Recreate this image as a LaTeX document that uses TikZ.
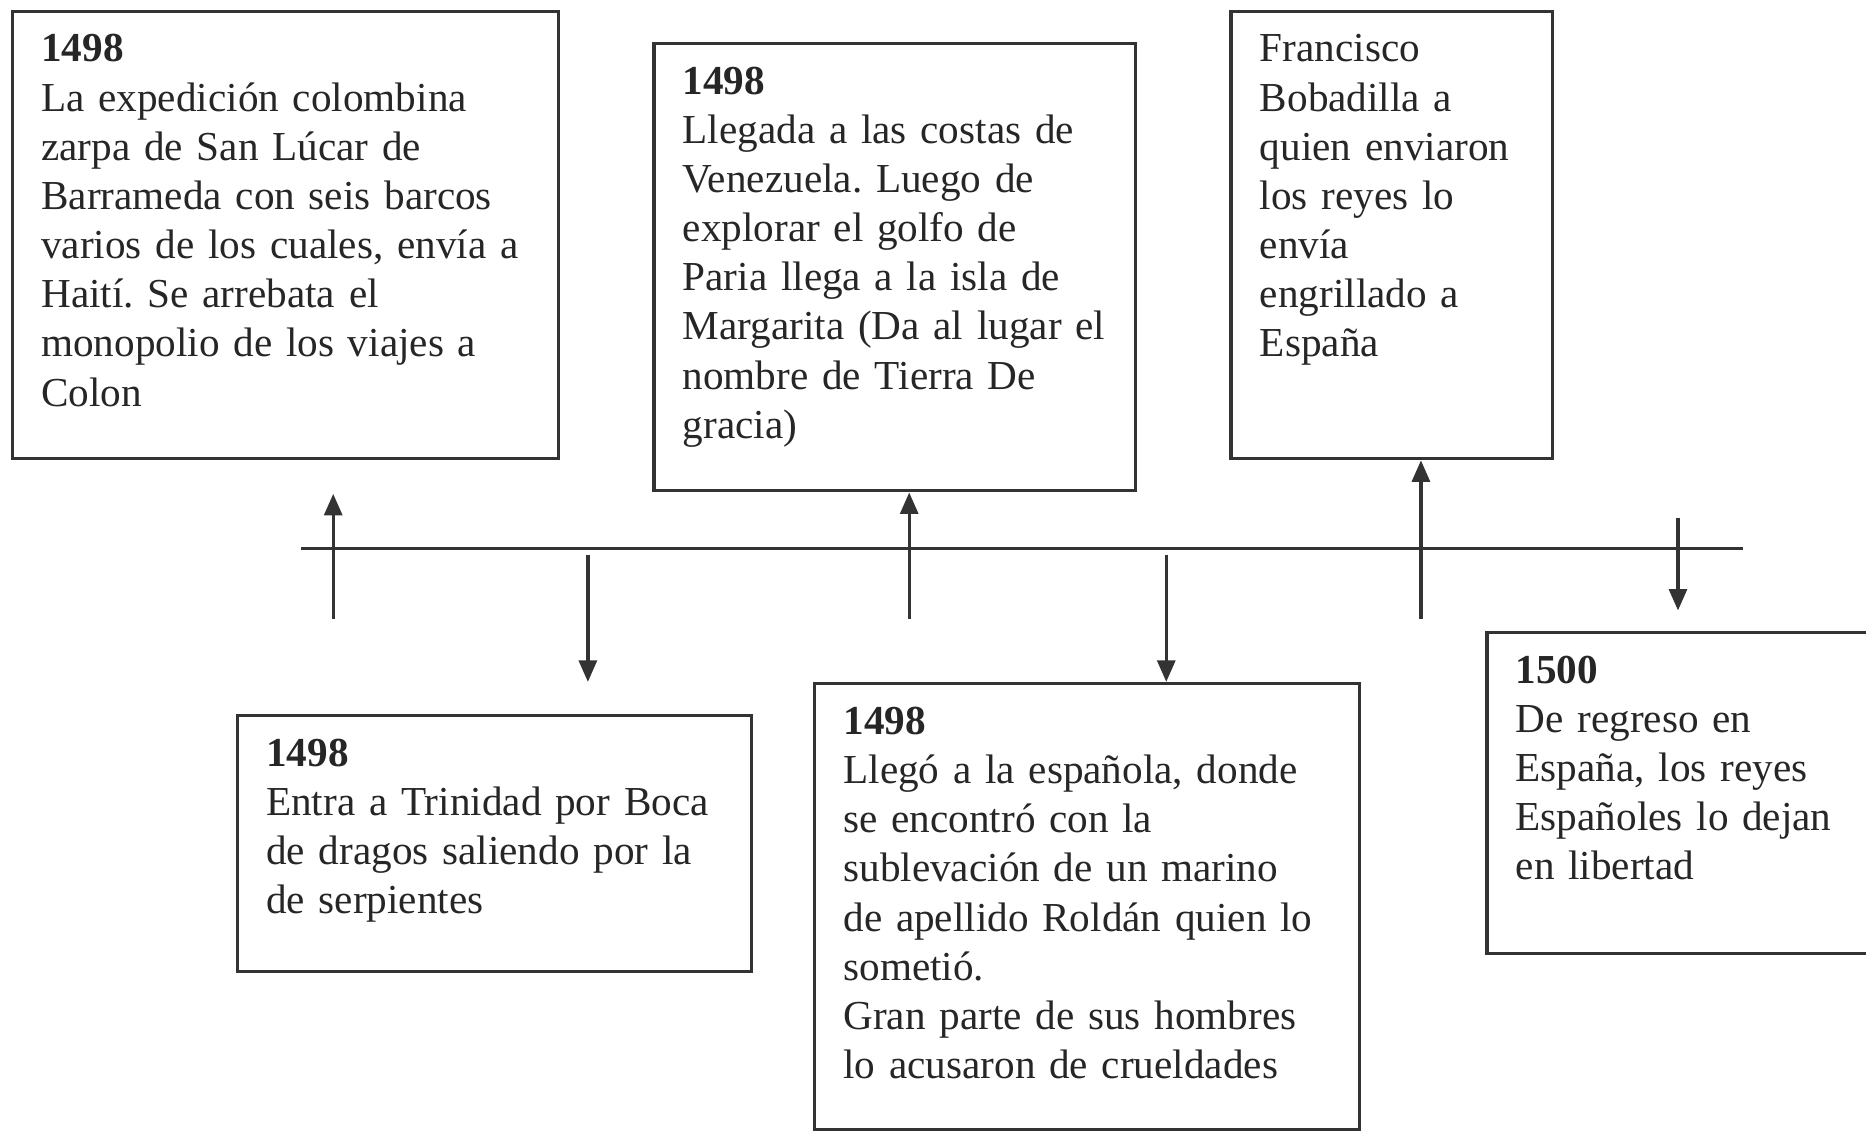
\documentclass[tikz,border=0pt]{standalone}
\usepackage{fontspec}
\setmainfont{Liberation Serif}
\usetikzlibrary{arrows.meta,positioning}
\frenchspacing

\tikzset{
  caja/.style={draw=black!80, line width=0.8pt, anchor=north west, inner sep=0pt},
  texto/.style={anchor=base west, align=left, text width=6cm, inner sep=0pt,
    font=\fontsize{9.85}{11.76}\selectfont, text=black!85},
  linea/.style={draw=black!80, line width=0.8pt},
  flecha/.style={linea, -{Triangle[length=1.8mm, width=1.5mm]}}
}

\begin{document}
\begin{tikzpicture}
\useasboundingbox (0,0) rectangle (15.68,-9.5);

% boxes above the line
\node[caja, minimum width=4.59cm, minimum height=3.76cm] (c1) at (0.09,-0.08) {};
\node[caja, minimum width=4.05cm, minimum height=3.76cm] (c3) at (5.48,-0.35) {};
\node[caja, minimum width=2.70cm, minimum height=3.76cm] (c5) at (10.33,-0.08) {};

% boxes below the line
\node[caja, minimum width=4.32cm, minimum height=2.15cm] (c2) at (1.98,-6.00) {};
\node[caja, minimum width=4.58cm, minimum height=3.75cm] (c4) at (6.83,-5.73) {};
\node[caja, minimum width=3.30cm, minimum height=2.70cm] (c6) at (12.48,-5.30) {};

% texts
\node[texto] (t1) at ([shift={(0.25,-0.44)}]c1.north west) {\textbf{1498}\\
La expedición colombina\\
zarpa de San Lúcar de\\
Barrameda con seis barcos\\
varios de los cuales, envía a\\
Haití. Se arrebata el\\
monopolio de los viajes a\\
Colon};
\node[texto] (t3) at ([shift={(0.25,-0.44)}]c3.north west) {\textbf{1498}\\
Llegada a las costas de\\
Venezuela. Luego de\\
explorar el golfo de\\
Paria llega a la isla de\\
Margarita (Da al lugar el\\
nombre de Tierra De\\
gracia)};
\node[texto] (t5) at ([shift={(0.25,-0.44)}]c5.north west) {Francisco\\
Bobadilla a\\
quien enviaron\\
los reyes lo\\
envía\\
engrillado a\\
España};
\node[texto] (t2) at ([shift={(0.25,-0.44)}]c2.north west) {\textbf{1498}\\
Entra a Trinidad por Boca\\
de dragos saliendo por la\\
de serpientes};
\node[texto] (t4) at ([shift={(0.25,-0.44)}]c4.north west) {\textbf{1498}\\
Llegó a la española, donde\\
se encontró con la\\
sublevación de un marino\\
de apellido Roldán quien lo\\
sometió.\\
Gran parte de sus hombres\\
lo acusaron de crueldades};
\node[texto] (t6) at ([shift={(0.25,-0.44)}]c6.north west) {\textbf{1500}\\
De regreso en\\
España, los reyes\\
Españoles lo dejan\\
en libertad};

% time line
\coordinate (ini) at (2.53,-4.61);
\coordinate (fin) at (14.65,-4.61);
\draw[linea] (ini) -- (fin);

% arrows up
\coordinate (f1) at (2.80,-5.20);
\coordinate (g1) at (2.80,-4.15);
\draw[flecha] (f1) -- (g1);
\coordinate (f3) at (7.64,-5.20);
\draw[flecha] (f3) -- (f3 |- c3.south);
\coordinate (f5) at (11.94,-5.20);
\draw[flecha] (f5) -- (f5 |- c5.south);

% arrows down
\coordinate (f2) at (4.94,-4.66);
\coordinate (g2) at (4.94,-5.73);
\draw[flecha] (f2) -- (g2);
\coordinate (f4) at (9.80,-4.66);
\draw[flecha] (f4) -- (f4 |- c4.north);
\coordinate (f6) at (14.10,-4.35);
\coordinate (g6) at (14.10,-5.13);
\draw[flecha] (f6) -- (g6);
\end{tikzpicture}
\end{document}
